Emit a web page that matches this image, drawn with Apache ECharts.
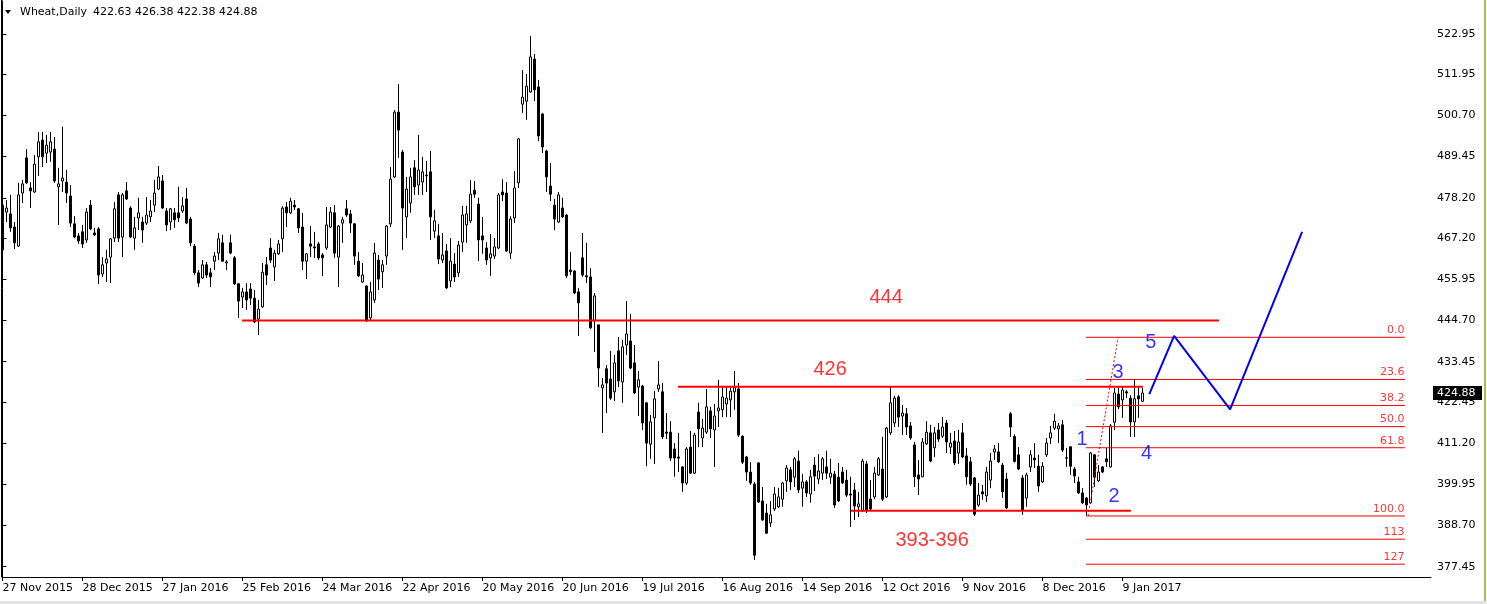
<!DOCTYPE html>
<html><head><meta charset="utf-8">
<script src="https://cdn.jsdelivr.net/npm/echarts@6/dist/echarts.min.js"></script>
<style>html,body{margin:0;padding:0;background:#fff;overflow:hidden}#c{width:1487px;height:604px}</style>
</head><body><div id="c"></div>
<script>
const symbolName = 'Wheat,Daily';
const headerValues = '422.63 426.38 422.38 424.88';
const openV = [476.2,474.3,473.8,470.2,465.0,479.5,489.1,480.9,479.8,489.4,494.0,490.4,490.7,491.5,481.2,482.8,482.5,478.7,471.1,467.8,468.9,466.7,476.2,468.6,469.7,457.4,460.4,462.0,467.2,479.0,467.5,480.1,475.4,467.2,472.7,471.6,471.3,473.0,476.2,480.6,482.8,474.6,471.6,474.1,474.1,474.6,477.9,472.4,465.0,457.7,456.3,459.9,457.7,460.9,463.1,465.9,460.4,465.9,461.8,454.7,451.1,452.5,453.3,450.8,445.1,448.4,459.9,464.5,459.3,462.9,467.0,475.7,474.1,476.2,475.2,470.2,460.9,465.6,464.8,465.6,462.6,464.5,470.2,474.1,462.0,471.3,475.2,473.8,471.1,460.9,455.2,454.1,445.4,450.3,461.2,458.0,462.3,471.1,483.9,501.6,490.7,473.0,476.8,486.4,481.7,482.5,484.2,485.3,469.1,467.8,461.2,463.7,455.5,460.1,457.7,466.1,470.8,471.9,480.3,476.5,467.8,464.5,461.8,462.3,464.5,479.8,479.5,463.1,472.7,482.3,503.8,504.6,507.1,516.1,508.5,501.1,491.0,481.4,476.2,471.6,475.4,473.5,458.5,458.2,452.5,461.8,456.9,456.6,444.6,443.5,426.3,431.5,428.7,425.2,436.4,427.9,438.0,439.1,433.1,426.5,426.8,422.2,410.9,418.1,426.0,425.2,414.2,414.2,409.6,407.4,404.7,400.3,410.1,403.0,419.7,412.6,414.2,420.0,414.8,420.0,420.3,421.9,423.0,425.2,426.0,413.1,407.4,403.3,400.0,405.8,395.4,392.1,389.4,393.2,393.8,395.9,400.9,403.9,401.9,406.3,398.9,400.6,397.3,405.2,401.4,403.0,404.7,401.9,402.7,401.9,403.3,401.1,397.3,398.4,393.8,392.7,405.5,395.9,396.5,402.5,404.1,396.5,414.0,416.7,423.8,418.6,419.2,415.9,410.7,402.5,402.0,411.0,414.0,409.9,414.8,413.1,416.7,410.1,411.8,408.5,414.0,407.7,406.1,401.7,394.3,397.9,396.8,401.1,408.8,408.8,405.2,401.4,419.2,413.0,408.0,401.7,396.2,404.7,407.1,404.9,400.6,408.0,412.6,415.3,415.1,416.2,407.2,410.2,404.1,400.6,397.6,396.2,394.9,408.0,400.9,404.7,406.9,404.7,416.9,424.6,423.0,425.2,423.5,417.0,424.1,422.63];
const closeV = [464.0,475.4,470.0,465.9,479.0,482.0,482.3,480.1,487.4,493.5,489.4,492.6,493.5,482.8,482.0,483.6,479.5,471.3,467.5,466.4,465.6,474.3,469.7,468.1,457.1,459.9,461.5,467.0,475.2,467.2,479.0,477.9,467.5,470.0,474.1,469.4,473.5,474.6,479.5,483.9,475.4,470.8,475.2,472.2,472.7,476.0,471.3,465.9,457.7,454.9,459.9,457.1,456.6,462.3,467.0,460.9,460.7,463.1,454.7,450.0,452.5,450.3,450.8,444.3,447.8,457.9,457.1,461.2,463.1,465.6,475.4,474.1,477.3,475.7,470.0,460.9,462.9,465.0,464.5,461.8,461.8,470.8,474.3,463.1,470.5,472.2,473.5,471.3,462.3,456.9,457.1,444.6,452.5,463.1,456.0,459.9,470.5,483.3,501.6,496.7,475.4,480.6,483.9,481.2,485.8,485.3,484.4,473.0,471.9,461.5,462.6,453.6,460.9,456.6,465.3,473.5,473.8,479.2,479.2,466.7,466.7,461.2,462.9,464.8,479.0,479.0,463.7,472.4,480.9,494.3,505.7,508.7,516.7,507.7,495.1,492.1,483.9,479.2,472.4,479.0,473.0,456.9,458.0,452.2,449.5,457.1,456.6,442.7,451.4,431.7,427.1,427.6,423.5,433.1,428.2,437.5,441.0,431.7,424.9,428.5,416.7,411.2,417.0,423.3,427.1,412.9,413.9,407.1,407.1,407.1,400.3,409.6,403.0,413.4,415.1,415.3,421.1,415.1,418.6,420.8,423.8,423.5,425.4,426.5,413.4,406.0,403.3,400.3,380.6,395.1,390.2,386.6,391.6,397.3,396.5,400.3,404.4,400.6,406.9,398.4,400.6,397.6,402.0,402.2,403.6,406.9,403.0,403.0,394.3,395.4,400.3,397.0,397.0,394.0,394.6,406.3,392.7,393.2,403.0,406.9,395.9,415.3,422.2,423.5,418.3,419.4,415.6,412.6,402.0,401.4,411.5,414.2,406.3,414.0,412.3,415.6,411.5,411.2,405.8,411.5,407.4,402.0,400.0,391.8,397.0,397.3,403.3,406.3,409.6,406.1,397.9,393.5,415.6,406.2,404.1,392.9,402.5,408.0,406.6,399.5,404.9,411.2,414.0,417.2,415.9,409.3,407.1,404.9,402.2,397.6,394.9,394.3,408.5,401.9,403.3,403.3,406.1,415.9,424.9,421.1,425.7,424.9,417.0,423.3,423.3,424.88];
const lowV = [463.7,471.6,468.9,464.2,464.8,476.8,482.0,475.4,479.5,484.2,486.6,487.7,488.0,482.3,470.8,479.8,476.8,470.2,467.2,465.6,464.5,465.9,469.4,467.8,454.7,456.6,455.2,454.9,466.1,466.1,462.0,477.6,467.2,464.0,469.4,465.9,470.8,471.6,474.3,480.3,475.2,469.1,469.4,470.0,471.6,474.1,471.0,465.0,457.1,453.8,456.0,456.3,453.8,458.5,461.2,460.7,458.5,462.8,454.4,445.4,448.1,447.6,448.9,444.0,440.7,448.2,454.4,460.4,455.5,462.6,463.4,470.2,473.8,474.9,468.6,458.5,456.0,462.0,461.8,461.2,456.8,464.0,470.0,461.8,453.8,465.9,473.0,468.6,459.9,456.6,454.9,444.3,444.8,449.5,453.0,453.6,459.9,470.2,483.6,489.1,464.0,467.2,474.1,479.0,479.0,479.0,479.8,466.7,467.2,460.1,460.4,453.3,453.8,455.2,456.6,463.4,465.9,471.3,478.2,460.9,462.9,459.9,456.9,461.5,464.2,477.3,463.4,461.5,471.3,480.9,501.4,499.5,506.9,504.6,493.7,490.4,479.8,477.3,469.4,471.3,472.7,456.3,457.1,451.9,440.5,456.6,454.9,442.4,436.1,426.5,414.0,419.4,423.0,422.7,426.5,422.2,435.3,431.4,424.6,418.6,414.8,404.9,406.9,405.5,425.2,412.3,412.3,406.3,402.0,403.3,397.9,399.8,402.8,402.8,410.1,410.1,413.7,412.6,404.7,415.6,418.3,418.3,418.3,420.3,412.9,405.5,400.9,399.8,379.3,394.9,390.0,386.4,388.3,392.7,393.5,393.8,397.9,398.4,399.2,397.6,393.8,396.5,394.9,398.1,400.0,401.1,401.4,400.0,393.5,395.1,400.0,396.5,388.3,390.2,391.0,392.4,392.1,392.7,395.9,402.2,395.4,396.2,413.4,415.6,415.6,413.4,413.4,412.1,399.2,397.0,401.9,410.7,406.0,407.4,411.5,412.6,408.5,408.2,405.2,405.5,407.1,399.8,399.5,391.3,393.8,395.7,395.1,398.9,406.6,405.8,396.2,393.2,412.9,405.9,403.9,391.6,393.8,403.3,404.4,397.9,400.3,407.4,411.0,414.8,411.2,408.8,404.7,402.5,400.3,397.3,394.6,391.4,394.6,399.2,400.6,403.0,404.7,404.5,414.8,420.5,418.1,423.5,412.9,412.9,418.1,422.38];
const highV = [476.8,477.6,479.0,471.6,482.3,483.1,491.5,482.5,489.9,496.2,496.2,495.4,496.2,494.8,486.4,497.6,485.8,481.7,473.2,468.6,470.8,475.4,477.6,470.0,470.2,462.0,464.0,467.2,477.1,479.8,479.5,482.5,475.9,473.0,478.2,473.0,478.4,477.6,483.1,486.9,484.4,475.4,475.4,475.4,481.2,478.4,480.9,473.0,465.6,458.5,461.2,460.7,459.0,463.4,468.6,468.1,461.2,468.1,462.3,454.9,453.6,454.9,454.9,453.0,450.3,460.4,462.0,467.2,464.0,466.7,475.9,477.1,478.2,477.6,475.4,474.1,463.1,470.5,468.9,466.1,463.1,475.7,475.7,476.2,470.8,473.0,477.6,474.9,471.3,463.4,460.4,454.4,455.2,465.9,462.6,461.2,470.8,486.6,502.2,509.3,491.3,483.9,486.4,488.5,495.4,489.4,488.3,491.0,474.9,471.1,468.6,465.6,467.2,463.1,466.4,476.0,476.0,483.1,482.8,478.2,473.0,466.1,468.3,467.2,479.5,483.3,482.5,473.2,485.5,494.5,513.1,512.0,522.4,517.5,510.4,501.4,491.3,487.7,477.9,479.8,478.2,473.8,463.4,458.5,453.6,468.6,465.9,459.0,452.2,443.5,429.0,432.5,436.4,435.3,440.2,439.4,450.0,446.5,438.0,430.9,427.1,422.4,418.9,425.4,433.6,427.6,419.4,417.2,411.2,414.0,404.9,410.1,414.5,414.0,422.2,417.8,426.0,421.1,421.9,428.5,426.5,426.8,426.5,430.9,427.6,413.3,407.7,406.0,400.6,406.0,399.2,394.6,395.4,399.2,399.0,400.6,405.2,404.7,407.4,409.1,402.8,401.1,403.9,407.4,408.2,407.4,409.1,406.9,403.6,405.8,404.7,403.9,402.0,400.3,397.9,406.9,406.3,401.1,404.7,407.4,412.9,415.6,426.8,424.1,424.3,421.6,420.8,417.0,411.5,406.6,412.6,417.2,416.2,415.6,416.7,418.3,417.5,414.0,414.5,414.8,416.7,409.9,407.4,401.9,400.3,399.8,404.7,408.5,410.7,411.2,405.8,403.1,419.7,413.6,410.1,402.5,403.1,409.3,411.2,408.0,406.0,412.6,415.9,419.2,416.7,417.5,409.9,410.2,404.7,402.0,398.9,396.5,408.8,408.2,405.2,404.9,409.9,416.4,426.2,426.5,426.5,425.7,424.3,428.5,426.5,426.38];
const xTickBars = [0,20,40,60,80,100,120,140,160,180,200,220,240,260,280];
const xTickLabels = ['27 Nov 2015','28 Dec 2015','27 Jan 2016','25 Feb 2016','24 Mar 2016','22 Apr 2016','20 May 2016','20 Jun 2016','19 Jul 2016','16 Aug 2016','14 Sep 2016','12 Oct 2016','9 Nov 2016','8 Dec 2016','9 Jan 2017'];
const yTickValues = [522.95,511.95,500.70,489.45,478.20,467.20,455.95,444.70,433.45,422.45,411.20,399.95,388.70,377.45];
// horizontal levels: [fromBar, toBar, price]
const levelLines = [[59.9,304.1,444.7],[168.9,285.1,426.6],[212.1,282.1,392.7]];
const levelTexts = ['444','426','393-396'];
const levelTextAt = [[220.9,450.9],[206.9,431.2],[232.4,384.7]];
// fibonacci
const fibHigh = 440.1, fibLow = 391.3;
const fibLevels = [0,23.6,38.2,50,61.8,100,113,127];
const fibTexts = ['0.0','23.6','38.2','50.0','61.8','100.0','113','127'];
const fibFrom = 270.9, fibTo = 350.6;
const fibTrend = [[271.4,391.3],[278.9,440.1]];
// wave projection
const wavePath = [[286.7,424.6],[292.9,440.5],[306.9,420.4],[324.9,468.9]];
const waveTexts = ['1','2','3','4','5'];
const waveTextAt = [[269.9,412.1],[277.9,396.5],[278.9,430.4],[286.0,408.5],[287.1,438.8]];

const candles = openV.map((o,i)=>[i,o,closeV[i],lowV[i],highV[i]]);
const FONT = 'DejaVu Sans';
const BIG = 'Liberation Sans';
const CLEAR = 'rgba(0,0,0,0)';

const series = [{
  type:'candlestick', data:candles, barWidth:2, silent:true, z:2,
  encode:{x:0,y:[1,2,3,4]},
  itemStyle:{color:'#ffffff',color0:'#000000',borderColor:'#000000',borderColor0:'#000000',borderColorDoji:'#000000',borderWidth:1}
}];
levelLines.forEach(l=>series.push({type:'line',silent:true,symbol:'none',z:4,
  data:[[l[0],l[2]],[l[1],l[2]]],lineStyle:{color:'#ff0000',width:2}}));
fibLevels.forEach(lv=>{
  const p = fibHigh-(fibHigh-fibLow)*lv/100;
  series.push({type:'line',silent:true,symbol:'none',z:3,data:[[fibFrom,p],[fibTo,p]],lineStyle:{color:'#ff0000',width:1}});
});
series.push({type:'line',silent:true,symbol:'none',z:3,data:fibTrend,lineStyle:{color:'#ff0000',width:1,type:[2,2]}});
series.push({type:'line',silent:true,symbol:'none',z:4,data:wavePath,lineStyle:{color:'#0000ff',width:2}});
function textSeries(names, points, label){
  return {type:'scatter',silent:true,symbol:'circle',symbolSize:1,z:6,
    itemStyle:{color:CLEAR,borderWidth:0},
    data:names.map((t,i)=>({name:t,value:points[i]})),
    label:Object.assign({show:true,formatter:'{b}'},label)};
}
series.push(textSeries(fibTexts, fibLevels.map(lv=>[fibTo, fibHigh-(fibHigh-fibLow)*lv/100]),
  {position:[0,-1],align:'right',verticalAlign:'bottom',color:'#ff0000',fontFamily:FONT,fontSize:11}));
series.push(textSeries(levelTexts, levelTextAt,
  {position:'inside',align:'center',verticalAlign:'middle',color:'#ff0000',fontFamily:BIG,fontSize:20}));
series.push(textSeries(waveTexts, waveTextAt,
  {position:'inside',align:'center',verticalAlign:'middle',color:'#0000ff',fontFamily:BIG,fontSize:20}));

const chart = echarts.init(document.getElementById('c'),null,{renderer:'canvas'});
chart.setOption({
  animation:false,
  backgroundColor:'#ffffff',
  grid:{left:2,right:56,top:1,bottom:27,outerBoundsMode:'none',containLabel:false},
  xAxis:{type:'value',min:-0.125,max:357.125,
    axisLine:{show:true,lineStyle:{color:'#000',width:1}},
    axisTick:{show:true,length:4,customValues:xTickBars,lineStyle:{color:'#000'}},
    axisLabel:{show:true,customValues:xTickBars,align:'left',margin:6,color:'#000',fontFamily:FONT,fontSize:11,
      formatter:v=>{const k=xTickBars.indexOf(Math.round(v));return k>=0?xTickLabels[k]:'';}},
    splitLine:{show:false}},
  yAxis:{type:'value',position:'right',min:374.63,max:531.96,scale:true,
    axisLine:{show:true,lineStyle:{color:'#000',width:1}},
    axisTick:{show:true,length:4,customValues:yTickValues,lineStyle:{color:'#000'}},
    axisLabel:{show:true,customValues:yTickValues,margin:6,color:'#000',fontFamily:FONT,fontSize:11,formatter:v=>v.toFixed(2)},
    splitLine:{show:false}},
  series:series
});
const lastClose = closeV[closeV.length-1];
const py = Math.round(chart.convertToPixel({yAxisIndex:0},lastClose));
chart.setOption({graphic:[
  {type:'line',shape:{x1:1.5,y1:0,x2:1.5,y2:577},style:{stroke:'#000',lineWidth:1},z:10},
  {type:'polygon',shape:{points:[[5,10],[11,10],[8,14]]},style:{fill:'#000'},z:10},
  {type:'text',x:20,y:12,style:{text:symbolName,font:'11px "DejaVu Sans"',fill:'#000',verticalAlign:'middle'},z:10},
  {type:'text',x:93,y:12,style:{text:headerValues,font:'11px "DejaVu Sans"',fill:'#000',verticalAlign:'middle'},z:10},
  {type:'rect',shape:{x:1433,y:py-7,width:49,height:14},style:{fill:'#000'},z:20},
  {type:'text',x:1437,y:py,style:{text:lastClose.toFixed(2),font:'11px "DejaVu Sans"',fill:'#fff',verticalAlign:'middle'},z:21},
  {type:'rect',shape:{x:1484,y:0,width:2,height:604},style:{fill:'#a8c050'},z:10},
  {type:'rect',shape:{x:0,y:601,width:1487,height:3},style:{fill:'#e4e4e4'},z:10}
]});
</script></body></html>
